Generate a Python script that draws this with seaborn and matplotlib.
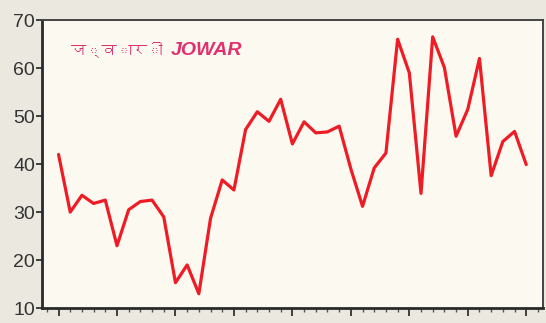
import numpy as np
import pandas as pd
import matplotlib as mpl
import matplotlib.pyplot as plt
from matplotlib import font_manager
from matplotlib.ft2font import FT2Font
from matplotlib.ticker import MultipleLocator
import seaborn as sns

mpl.use("Agg")

# Jowar series, one value per year
year_index = list(range(41))
jowar = [42.0, 30.0, 33.5, 31.8, 32.5, 23.0, 30.5, 32.2, 32.5, 29.0,
         15.3, 19.0, 13.0, 28.7, 36.7, 34.6, 47.2, 50.9, 48.9, 53.5,
         44.2, 48.8, 46.5, 46.7, 47.9, 39.0, 31.2, 39.2, 42.3, 66.0,
         59.0, 33.9, 66.5, 60.1, 45.8, 51.4, 62.0, 37.6, 44.7, 46.8,
         39.9]
title_hi = "ज्वारी"
title_en = "JOWAR"

df = pd.DataFrame({"year": year_index, "value": jowar})


def find_devanagari_font():
    # look for any installed font that has Devanagari glyphs
    for path in font_manager.findSystemFonts():
        try:
            cmap = FT2Font(path).get_charmap()
        except Exception:
            continue
        if 0x091C in cmap and 0x0940 in cmap:
            return font_manager.FontProperties(fname=path).get_name()
    return None


sns.set_style("ticks")
plt.rcParams["font.family"] = ["Liberation Sans", "DejaVu Sans"]

fig = plt.figure(figsize=(5.46, 3.23), dpi=100, facecolor="#ebe8e0")
ax = fig.add_axes([0.077, 0.046, 0.917, 0.892], facecolor="#fcf9f1")

sns.lineplot(data=df, x="year", y="value", ax=ax, color="#ee1c25", linewidth=2.3)

ax.set_xlim(-1.41, 41.41)
ax.set_ylim(10, 70)
ax.set_yticks([10, 20, 30, 40, 50, 60, 70])
ax.xaxis.set_major_locator(MultipleLocator(5))
ax.xaxis.set_minor_locator(MultipleLocator(1))
ax.set_xticklabels([])
ax.set_xlabel("")
ax.set_ylabel("")

ax.tick_params(axis="y", labelsize=14, labelcolor="#333333", color="#333333",
               length=4, width=1.3, pad=1)
ax.tick_params(axis="x", which="major", length=6, width=1.3, color="#333333")
ax.tick_params(axis="x", which="minor", length=3, width=1.0, color="#555555")

for side in ["left", "bottom"]:
    ax.spines[side].set_linewidth(2.0)
    ax.spines[side].set_color("#2a2a2a")
for side in ["top", "right"]:
    ax.spines[side].set_visible(True)
    ax.spines[side].set_linewidth(1.4)
    ax.spines[side].set_color("#444444")

deva = find_devanagari_font()
hi_family = [deva, "DejaVu Sans"] if deva else ["DejaVu Sans"]
hi = ax.text(0.058, 0.895, title_hi, transform=ax.transAxes, fontsize=11,
             color="#e0306e", fontweight="bold",
             family=hi_family, va="center", ha="left")
# English part sits just after the Hindi word
ax.annotate(title_en, xy=(1, 0.5), xycoords=hi, xytext=(6, 0),
            textcoords="offset points", fontsize=14, color="#e0306e",
            fontweight="bold", style="italic",
            family=["Liberation Sans", "DejaVu Sans"], va="center", ha="left")

fig.savefig("out.png", dpi=100, facecolor=fig.get_facecolor())
